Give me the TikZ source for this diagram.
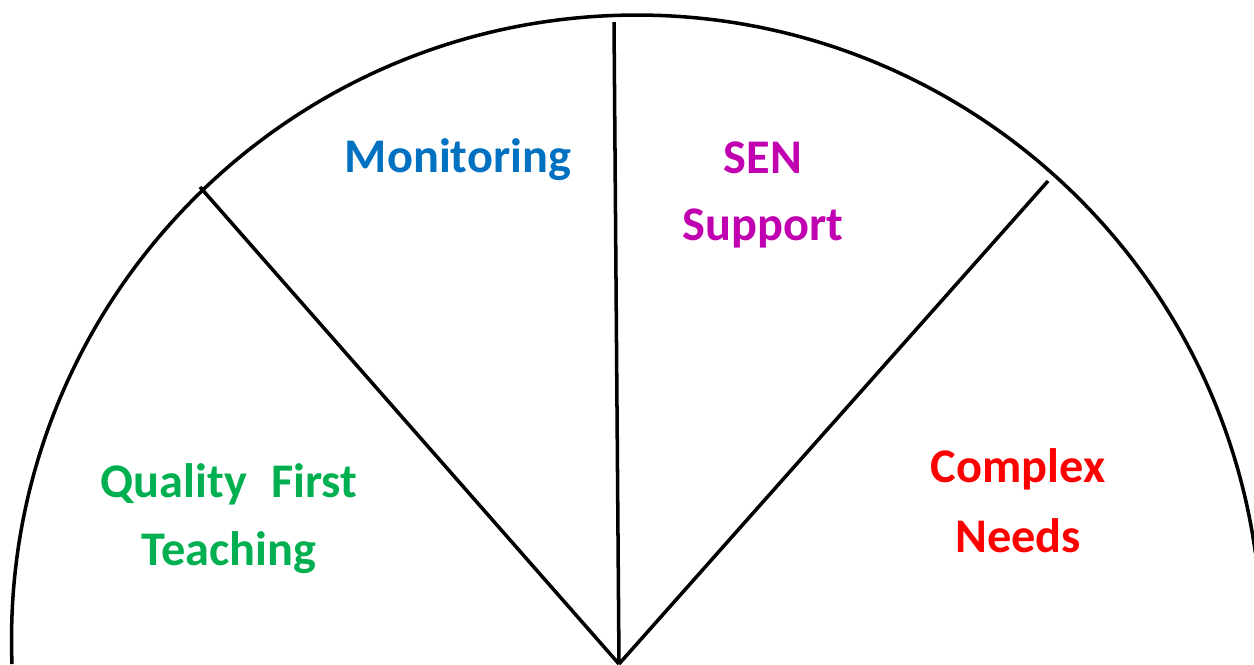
\documentclass[tikz,border=0pt]{standalone}
\usepackage{fontspec}
\setmainfont{Carlito}
\begin{document}
\begin{tikzpicture}
            [
                x=0.02cm, y=-0.02cm,
                rim/.style={line width=2pt, black},
                spoke/.style={line width=2pt, black},
                sector/.style={font=\fontsize{27.5}{27.5}\selectfont\bfseries, align=center},
            ]
            \useasboundingbox (0,0) rectangle (1254,664);
            \coordinate (hub) at (619,664);
            \coordinate (tl) at (200,187);
            \coordinate (tm) at (614,22);
            \coordinate (tr) at (1048,181);
            \draw[rim] (12,664) arc[start angle=177.8, end angle=352, radius=625];
            \draw[spoke] (tl) -- (hub);
            \draw[spoke] (tm) -- (hub);
            \draw[spoke] (tr) -- (hub);
            \node[sector, text={rgb,255:red,0;green,176;blue,80}] (quality) at (229,484) {Quality\hspace{0.5em}First};
            \node[sector, text={rgb,255:red,0;green,176;blue,80}] (teaching) at (229,553) {Teaching};
            \node[sector, text={rgb,255:red,0;green,112;blue,192}] (monitoring) at (458,160) {Monitoring};
            \node[sector, text={rgb,255:red,192;green,0;blue,176}] (sen) at (763,158) {SEN};
            \node[sector, text={rgb,255:red,192;green,0;blue,176}] (support) at (763,228) {Support};
            \node[sector, text=red] (complex) at (1018,469) {Complex};
            \node[sector, text=red] (needs) at (1018,536) {Needs};
        \end{tikzpicture}
\end{document}
